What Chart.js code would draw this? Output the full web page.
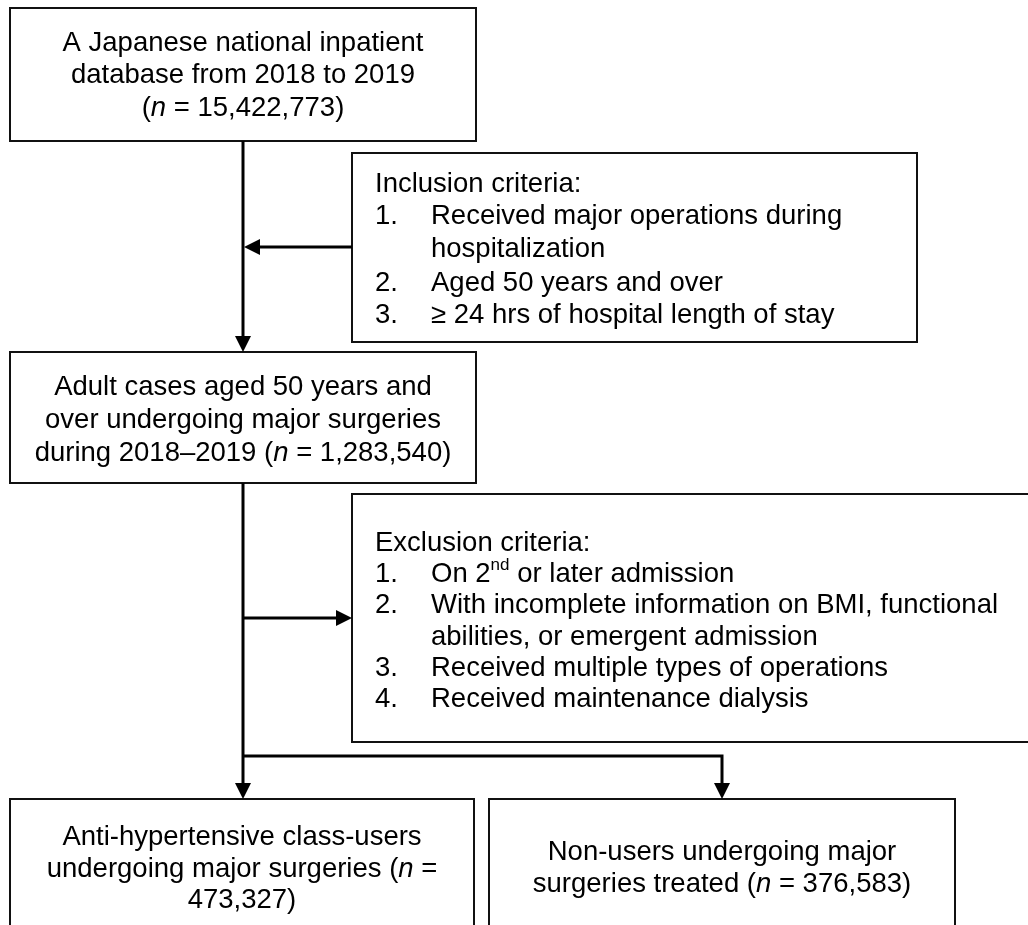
<!DOCTYPE html>
<html>
<head>
<meta charset="utf-8">
<script src="https://cdn.jsdelivr.net/npm/chart.js@4.4.1/dist/chart.umd.min.js"></script>
<style>
  html, body { margin: 0; padding: 0; background: #fff; }
  canvas { display: block; }
</style>
</head>
<body>
<canvas id="flow" width="1028" height="925"></canvas>
<script>
// Cohort counts at each step of the flow
const COUNTS = [15422773, 1283540, 473327, 376583]

const fmt = n => n.toLocaleString('en-US')

// Box texts (_x_ = italic, ^x^ = superscript)
const SOURCE_LINES = [
  'A Japanese national inpatient',
  'database from 2018 to 2019',
  '(_n_ = ' + fmt(COUNTS[0]) + ')',
]
const INCLUSION_TITLE = 'Inclusion criteria:'
const INCLUSION_ITEMS = [
  ['1.', 'Received major operations during'],
  ['',   'hospitalization'],
  ['2.', 'Aged 50 years and over'],
  ['3.', '≥ 24 hrs of hospital length of stay'],
]
const COHORT_LINES = [
  'Adult cases aged 50 years and',
  'over undergoing major surgeries',
  'during 2018–2019 (_n_ = ' + fmt(COUNTS[1]) + ')',
]
const EXCLUSION_TITLE = 'Exclusion criteria:'
const EXCLUSION_ITEMS = [
  ['1.', 'On 2^nd^ or later admission'],
  ['2.', 'With incomplete information on BMI, functional'],
  ['',   'abilities, or emergent admission'],
  ['3.', 'Received multiple types of operations'],
  ['4.', 'Received maintenance dialysis'],
]
const USERS_LINES = [
  'Anti-hypertensive class-users',
  'undergoing major surgeries (_n_ =',
  fmt(COUNTS[2]) + ')',
]
const NONUSERS_LINES = [
  'Non-users undergoing major',
  'surgeries treated (_n_ = ' + fmt(COUNTS[3]) + ')',
]

// Layout in chart units (x 0..1028, y 0..925 top-down)
const LAYOUT = {
  source:   { x0: 10,  x1: 476,  y0: 8,   y1: 141, lines: [43, 75, 108] },
  incl:     { x0: 352, x1: 917,  y0: 153, y1: 342, lines: [184, 216, 249, 283, 315] },
  cohort:   { x0: 10,  x1: 476,  y0: 352, y1: 483, lines: [387, 420, 453] },
  excl:     { x0: 352, x1: 1040, y0: 494, y1: 742, lines: [543, 574, 605, 637, 668, 699] },
  users:    { x0: 10,  x1: 474,  y0: 799, y1: 960, lines: [837, 869, 900] },
  nonusers: { x0: 489, x1: 955,  y0: 799, y1: 960, lines: [852, 884] },
  spine: 243, branchX: 722, branchY: 756,
  numX: 375, textX: 431,
}

const FONT_SIZE = 27.5
const FAMILY = '"Liberation Sans", Arial, Helvetica, sans-serif'

function segments(str) {
  return str.split(/(_[^_]+_|\^[^^]+\^)/).filter(s => s).map(s => {
    if (s[0] === '_') return { t: s.slice(1, -1), style: 'italic' }
    if (s[0] === '^') return { t: s.slice(1, -1), style: 'sup' }
    return { t: s, style: 'normal' }
  })
}

function segFont(style) {
  if (style === 'italic') return 'italic ' + FONT_SIZE + 'px ' + FAMILY
  if (style === 'sup') return (FONT_SIZE * 0.62) + 'px ' + FAMILY
  return FONT_SIZE + 'px ' + FAMILY
}

function drawRich(ctx, str, x, y, align) {
  const segs = segments(str)
  let w = 0
  segs.forEach(s => { ctx.font = segFont(s.style); s.w = ctx.measureText(s.t).width; w += s.w })
  let cx = align === 'center' ? x - w / 2 : x
  segs.forEach(s => {
    ctx.font = segFont(s.style)
    ctx.fillText(s.t, cx, s.style === 'sup' ? y - FONT_SIZE * 0.3 : y)
    cx += s.w
  })
}

const flowPlugin = {
  id: 'flow',
  afterDraw(chart) {
    const ctx = chart.ctx
    const X = v => chart.scales.x.getPixelForValue(v)
    const Y = v => chart.scales.y.getPixelForValue(v)
    ctx.save()
    ctx.fillStyle = '#000'
    ctx.strokeStyle = '#111'
    ctx.textBaseline = 'middle'
    ctx.textAlign = 'left'

    const box = b => {
      ctx.lineWidth = 2
      ctx.strokeRect(X(b.x0), Y(b.y0), X(b.x1) - X(b.x0), Y(b.y1) - Y(b.y0))
    }
    const centred = (b, lines, cx) => lines.forEach((l, i) => drawRich(ctx, l, X(cx), Y(b.lines[i]), 'center'))
    const listed = (b, title, items) => {
      drawRich(ctx, title, X(LAYOUT.numX), Y(b.lines[0]), 'left')
      items.forEach((it, i) => {
        if (it[0]) drawRich(ctx, it[0], X(LAYOUT.numX), Y(b.lines[i + 1]), 'left')
        drawRich(ctx, it[1], X(LAYOUT.textX), Y(b.lines[i + 1]), 'left')
      })
    }

    const L = LAYOUT
    box(L.source); centred(L.source, SOURCE_LINES, L.spine)
    box(L.incl); listed(L.incl, INCLUSION_TITLE, INCLUSION_ITEMS)
    box(L.cohort); centred(L.cohort, COHORT_LINES, L.spine)
    box(L.excl); listed(L.excl, EXCLUSION_TITLE, EXCLUSION_ITEMS)
    box(L.users); centred(L.users, USERS_LINES, L.spine - 1)
    box(L.nonusers); centred(L.nonusers, NONUSERS_LINES, L.branchX)

    // connectors
    ctx.lineWidth = 3
    ctx.strokeStyle = '#000'
    const line = pts => {
      ctx.beginPath()
      pts.forEach((p, i) => i ? ctx.lineTo(X(p[0]), Y(p[1])) : ctx.moveTo(X(p[0]), Y(p[1])))
      ctx.stroke()
    }
    const head = (x, y, dir) => {
      const len = 16, hw = 8
      ctx.beginPath()
      if (dir === 'down') { ctx.moveTo(X(x), Y(y)); ctx.lineTo(X(x) - hw, Y(y) - len); ctx.lineTo(X(x) + hw, Y(y) - len) }
      if (dir === 'left') { ctx.moveTo(X(x), Y(y)); ctx.lineTo(X(x) + len, Y(y) - hw); ctx.lineTo(X(x) + len, Y(y) + hw) }
      if (dir === 'right') { ctx.moveTo(X(x), Y(y)); ctx.lineTo(X(x) - len, Y(y) - hw); ctx.lineTo(X(x) - len, Y(y) + hw) }
      ctx.closePath()
      ctx.fill()
    }
    const s = L.spine
    line([[s, L.source.y1], [s, L.cohort.y0 - 10]]); head(s, L.cohort.y0, 'down')
    line([[L.incl.x0, 247], [s + 10, 247]]); head(s + 1, 247, 'left')
    line([[s, L.cohort.y1], [s, L.users.y0 - 10]]); head(s, L.users.y0, 'down')
    line([[s, 618], [L.excl.x0 - 10, 618]]); head(L.excl.x0, 618, 'right')
    line([[s, L.branchY], [L.branchX, L.branchY], [L.branchX, L.nonusers.y0 - 10]]); head(L.branchX, L.nonusers.y0, 'down')
    ctx.restore()
  },
}

new Chart(document.getElementById('flow'), {
  type: 'scatter',
  data: { datasets: [] },
  options: {
    responsive: false,
    animation: false,
    layout: { padding: 0 },
    plugins: { legend: { display: false }, tooltip: { enabled: false } },
    scales: {
      x: { type: 'linear', min: 0, max: 1028, display: false },
      y: { type: 'linear', min: 0, max: 925, reverse: true, display: false },
    },
  },
  plugins: [flowPlugin],
})
</script>
</body>
</html>
